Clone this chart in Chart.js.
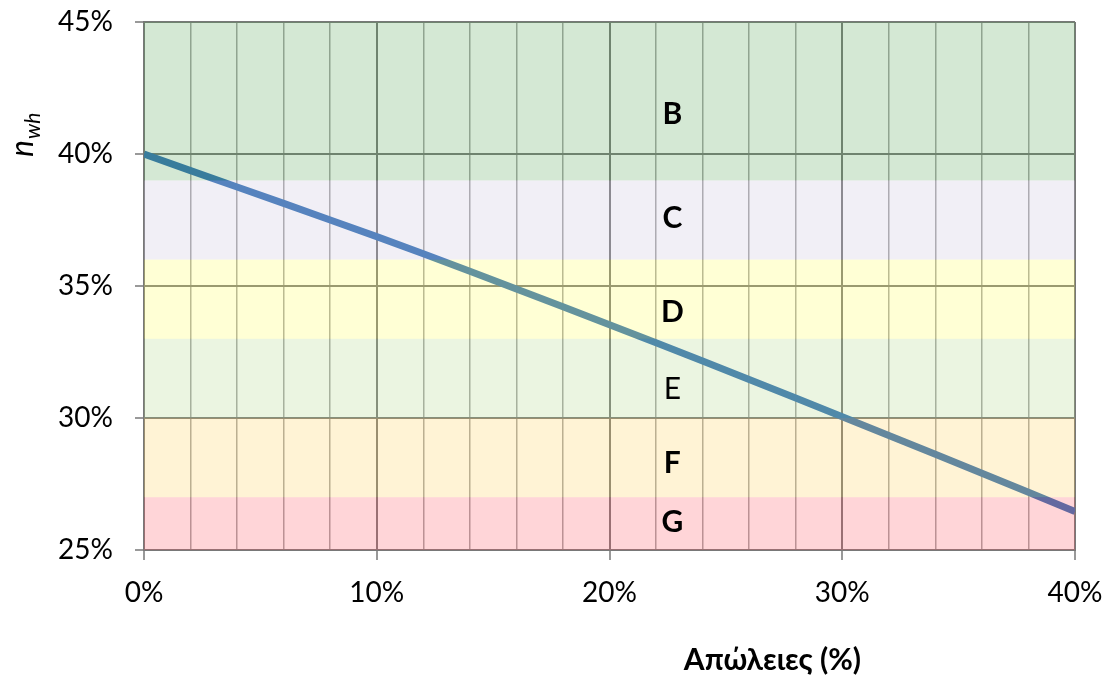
<!DOCTYPE html>
<html>
<head>
<meta charset="utf-8">
<script src="https://cdn.jsdelivr.net/npm/chart.js@4.4.1/dist/chart.umd.min.js"></script>
<style>
  html, body { margin: 0; padding: 0; background: #fff; }
  #wrap { width: 1107px; height: 675px; position: relative; }
</style>
</head>
<body>
<div id="wrap"><canvas id="chart"></canvas></div>
<script>
// losses (%) and efficiency n_wh (%)
const lossPct = [0, 2, 4, 6, 8, 10, 12, 14, 16, 18, 20, 22, 24, 26, 28, 30, 32, 34, 36, 38, 40];
const nwhPct = [40.0, 39.37, 38.75, 38.13, 37.5, 36.87, 36.22, 35.56, 34.89, 34.21, 33.53,
                32.85, 32.16, 31.46, 30.76, 30.05, 29.34, 28.63, 27.91, 27.19, 26.46];

// energy classes
const bandNames = ['G', 'F', 'E', 'D', 'C', 'B'];
const bandFrom = [25, 27, 30, 33, 36, 39];
const bandTo = [27, 30, 33, 36, 39, 45];
const bandLabelY = [26.05, 28.3, 31.1, 34.0, 37.55, 41.5];
const bandLabelX = 22.7;
const bandColors = [
  'rgba(255, 87, 99, 0.25)',
  'rgba(255, 207, 87, 0.25)',
  'rgba(175, 217, 135, 0.25)',
  'rgba(255, 255, 87, 0.25)',
  'rgba(199, 191, 219, 0.25)',
  'rgba(83, 165, 83, 0.25)'
];

const FONT = "Lato, 'Noto Sans', sans-serif";

// bande colorate sopra griglia e linea, poi le lettere
const bandsPlugin = {
  id: 'bands',
  afterDatasetsDraw(chart) {
    const { ctx, chartArea, scales } = chart;
    const y = scales.y, x = scales.x;
    ctx.save();
    for (let i = 0; i < bandNames.length; i++) {
      const top = y.getPixelForValue(bandTo[i]);
      const bottom = y.getPixelForValue(bandFrom[i]);
      ctx.fillStyle = bandColors[i];
      ctx.fillRect(chartArea.left, top, chartArea.right - chartArea.left, bottom - top);
    }
    ctx.fillStyle = '#000';
    ctx.textAlign = 'center';
    ctx.textBaseline = 'middle';
    for (let i = 0; i < bandNames.length; i++) {
      const bold = bandNames[i] !== 'E';
      ctx.font = (bold ? 'bold ' : '') + '30px ' + FONT;
      ctx.fillText(bandNames[i], x.getPixelForValue(bandLabelX), y.getPixelForValue(bandLabelY[i]));
    }
    ctx.restore();
  }
};

// titoli degli assi
const titlesPlugin = {
  id: 'titles',
  afterDraw(chart) {
    const { ctx, scales } = chart;
    ctx.save();
    ctx.fillStyle = '#000';
    ctx.font = 'bold 30px ' + FONT;
    ctx.textAlign = 'center';
    ctx.textBaseline = 'middle';
    ctx.fillText('Απώλειες (%)', scales.x.getPixelForValue(27), 660);

    // n_wh ruotato
    ctx.translate(33, 157);
    ctx.rotate(-Math.PI / 2);
    ctx.textAlign = 'left';
    ctx.textBaseline = 'alphabetic';
    ctx.font = 'italic 32px ' + FONT;
    ctx.fillText('n', 0, 0);
    const w = ctx.measureText('n').width;
    ctx.font = 'italic 21px ' + FONT;
    ctx.fillText('wh', w + 1, 7);
    ctx.restore();
  }
};

const MAJOR = '#787878';
const MINOR = '#a4a4a4';

new Chart(document.getElementById('chart'), {
  type: 'line',
  data: {
    datasets: [{
      data: lossPct.map((v, i) => ({ x: v, y: nwhPct[i] })),
      borderColor: 'rgb(48, 111, 180)',
      borderWidth: 7,
      pointRadius: 0,
      tension: 0,
      fill: false
    }]
  },
  options: {
    responsive: true,
    maintainAspectRatio: false,
    animation: false,
    layout: { padding: { top: 22, right: 32, left: 0, bottom: 0 } },
    plugins: {
      legend: { display: false },
      tooltip: { enabled: false }
    },
    scales: {
      x: {
        type: 'linear',
        min: 0,
        max: 40,
        afterFit(scale) {
          scale.height = 125;
          scale.paddingLeft = 0;
          scale.paddingRight = 0;
        },
        grid: {
          color: c => (c.tick && c.tick.value % 10 === 0) ? MAJOR : MINOR,
          lineWidth: c => (c.tick && c.tick.value % 10 === 0) ? 2 : 1.5,
          tickColor: c => (c.tick && c.tick.value % 10 === 0) ? '#999' : 'rgba(0,0,0,0)',
          tickLength: 10
        },
        border: { color: MAJOR, width: 2 },
        ticks: {
          stepSize: 2,
          autoSkip: false,
          maxRotation: 0,
          padding: 16,
          color: '#000',
          font: { family: FONT, size: 28 },
          callback: v => (v % 10 === 0 ? v + '%' : '')
        }
      },
      y: {
        min: 25,
        max: 45,
        afterFit(scale) {
          scale.width = 144;
          scale.paddingTop = 0;
          scale.paddingBottom = 0;
        },
        grid: {
          color: MAJOR,
          lineWidth: 2,
          tickColor: '#999',
          tickLength: 9
        },
        border: { color: MAJOR, width: 2 },
        ticks: {
          stepSize: 5,
          padding: 22,
          color: '#000',
          font: { family: FONT, size: 28 },
          callback: v => v + '%'
        }
      }
    }
  },
  plugins: [bandsPlugin, titlesPlugin]
});
</script>
</body>
</html>
